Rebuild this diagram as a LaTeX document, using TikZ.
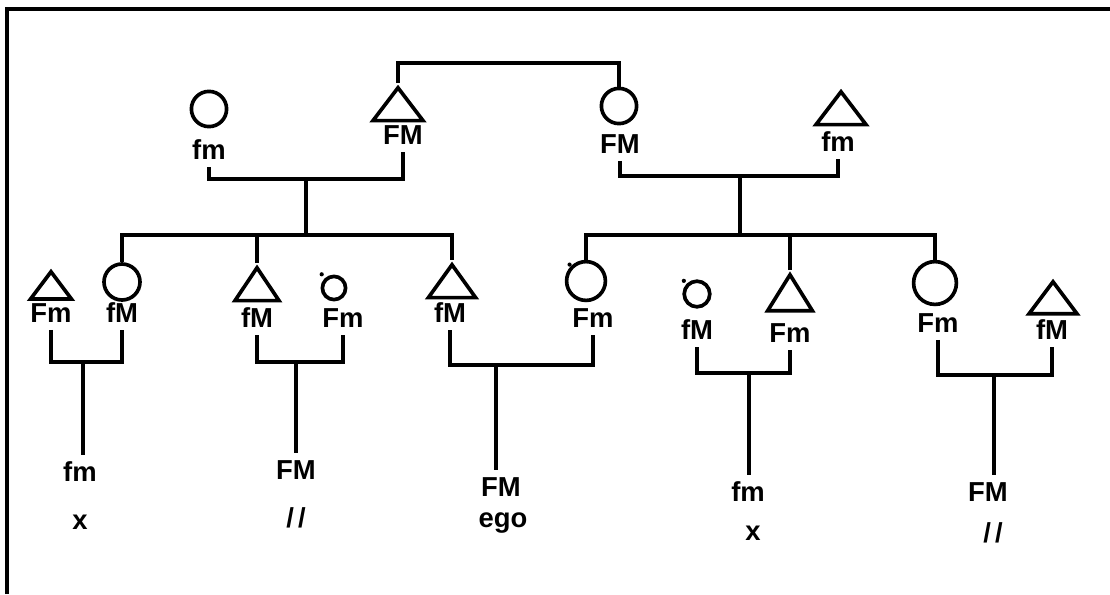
\documentclass[tikz,border=0pt]{standalone}
\usepackage{fontspec}
\setmainfont{Liberation Sans}
\usetikzlibrary{shapes.geometric}
\tikzset{
  fem/.style={draw,circle,inner sep=0pt,minimum size=0.88cm},
  male/.style={draw,isosceles triangle,shape border rotate=90,
               isosceles triangle stretches,inner sep=0pt,
               minimum width=1.25cm,minimum height=0.82cm,anchor=apex},
  kin/.style={inner xsep=0pt,inner ysep=4pt,font=\fontsize{19.5pt}{20pt}\selectfont\bfseries},
}
\begin{document}
\begin{tikzpicture}[x=0.025cm,y=-0.025cm,line width=2.6pt]
  \useasboundingbox (0,0) rectangle (1110,594);
  \draw[line width=3pt] (7,594) -- (7,9) -- (1110,9);

  \node[fem] (cA) at (209,109) {};
  \node[kin] (lA) at (209,150) {fm};
  \node[male] (tB) at (398,83) {};
  \node[kin] (lB) at (403,135) {FM};
  \node[fem] (cC) at (619,106) {};
  \node[kin] (lC) at (620,144) {FM};
  \node[male] (tD) at (841,87) {};
  \node[kin] (lD) at (838,142) {fm};

  \coordinate (mTop) at (506,63);
  \coordinate (mAB) at (306,179);
  \coordinate (mCD) at (740,176);
  \coordinate (sL) at (306,235);
  \coordinate (sR) at (740,235);
  \draw (tB.apex) |- (mTop) -| (cC.north);
  \draw (lA.south) |- (mAB) -| (lB.south);
  \draw (lC.south) |- (mCD) -| (lD.south);
  \draw (mAB) -- (sL);
  \draw (mCD) -- (sR);

  \node[male,minimum width=1.02cm,minimum height=0.68cm] (t1) at (51,267) {};
  \node[kin] (l1a) at (51,313) {Fm};
  \node[fem,minimum size=0.9cm] (c1) at (122,282) {};
  \node[kin] (l1b) at (122,313) {fM};
  \node[male,minimum width=1.1cm] (t2) at (257,263) {};
  \node[kin] (l2a) at (257,318) {fM};
  \node[fem,minimum size=0.58cm] (c2) at (334,288) {};
  \node[kin] (l2b) at (343,318) {Fm};
  \node[male,minimum width=1.18cm] (t3) at (452,260) {};
  \node[kin] (l3a) at (450,313) {fM};
  \node[fem,minimum size=0.97cm] (c3) at (586,281) {};
  \node[kin] (l3b) at (593,318) {Fm};
  \node[fem,minimum size=0.64cm] (c4) at (697,294) {};
  \node[kin] (l4a) at (697,330) {fM};
  \node[male,minimum width=1.12cm,minimum height=0.9cm] (t4) at (790,270) {};
  \node[kin] (l4b) at (790,333) {Fm};
  \node[fem,minimum size=1.07cm] (c5) at (935,283) {};
  \node[kin] (l5a) at (938,323) {Fm};
  \node[male,minimum width=1.2cm,minimum height=0.8cm] (t5) at (1053,277) {};
  \node[kin] (l5b) at (1052,330) {fM};

  \fill ([xshift=-2pt,yshift=3pt]c2.north west) circle (1.5pt);
  \fill ([xshift=-1pt,yshift=1pt]c3.north west) circle (1.5pt);
  \fill ([xshift=-2pt,yshift=2pt]c4.north west) circle (1.5pt);

  \draw (c1.north) |- (sL) -| (t3.apex);
  \draw (t2.apex) -- (t2.apex |- sL);
  \draw (c3.north) |- (sR) -| (c5.north);
  \draw (t4.apex) -- (t4.apex |- sR);

  \coordinate (m1) at (83,362);
  \coordinate (m2) at (296,362);
  \coordinate (m3) at (496,365);
  \coordinate (m4) at (749,373);
  \coordinate (m5) at (994,375);

  \node[kin] (k1) at (80,472) {fm};
  \node[kin] (n1) at (80,522) {x};
  \node[kin] (k2) at (296,470) {FM};
  \node[kin] (n2) at (296,518) {/\kern3pt/};
  \node[kin] (k3) at (501,487) {FM};
  \node[kin] (n3) at (503,523) {ego};
  \node[kin] (k4) at (748,492) {fm};
  \node[kin] (n4) at (753,533) {x};
  \node[kin] (k5) at (988,492) {FM};
  \node[kin] (n5) at (993,533) {/\kern3pt/};

  \draw (l1a.south) |- (m1) -| (l1b.south);
  \draw (l2a.south) |- (m2) -| (l2b.south);
  \draw (l3a.south) |- (m3) -| (l3b.south);
  \draw (l4a.south) |- (m4) -| (l4b.south);
  \draw (l5a.south) |- (m5) -| (l5b.south);
  \draw (m1) -- (m1 |- k1.north);
  \draw (m2) -- (m2 |- k2.north);
  \draw (m3) -- (m3 |- k3.north);
  \draw (m4) -- (m4 |- k4.north);
  \draw (m5) -- (m5 |- k5.north);
\end{tikzpicture}
\end{document}
